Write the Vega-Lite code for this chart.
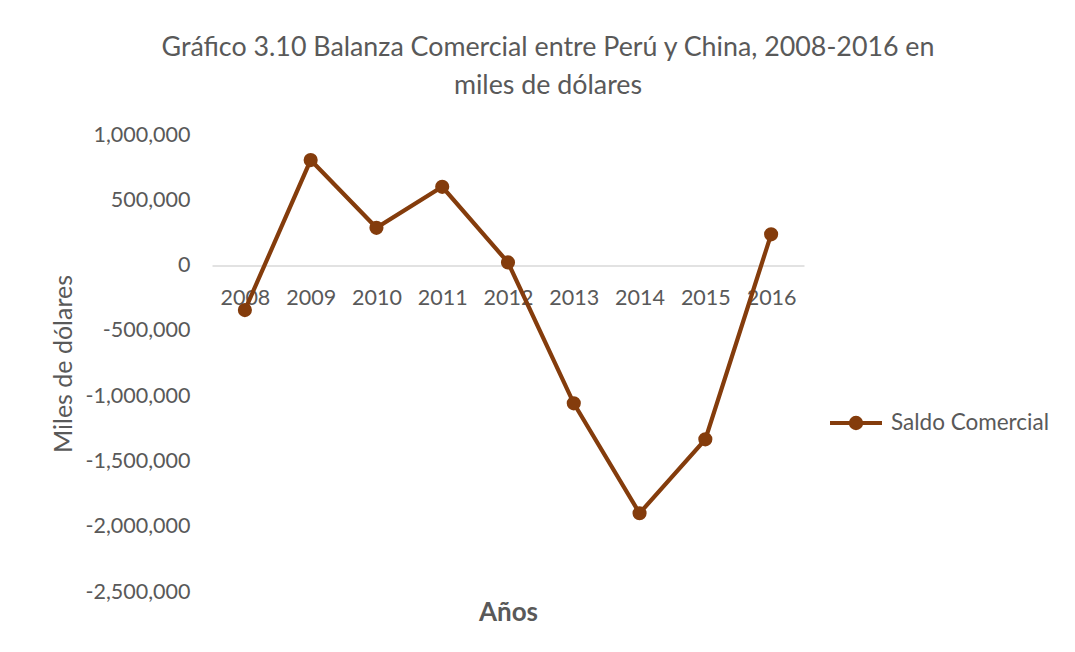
{
  "$schema": "https://vega.github.io/schema/vega-lite/v6.json",
  "autosize": "none",
  "width": 592,
  "height": 457,
  "padding": {"left": 212, "top": 135, "right": 271, "bottom": 60},
  "background": "white",
  "config": {
    "font": "Lato",
    "view": {"stroke": null}
  },
  "title": {
    "text": ["Gráfico 3.10 Balanza Comercial entre Perú y China, 2008-2016 en", "miles de dólares"],
    "font": "Lato",
    "fontSize": 26.8,
    "fontWeight": "normal",
    "color": "#595959",
    "anchor": "middle",
    "frame": "group",
    "dx": 40,
    "offset": 24,
    "lineHeight": 38
  },
  "data": {
    "values": [
      {"anio": "2008", "saldo": -341000, "serie": "Saldo Comercial"},
      {"anio": "2009", "saldo": 808000, "serie": "Saldo Comercial"},
      {"anio": "2010", "saldo": 289000, "serie": "Saldo Comercial"},
      {"anio": "2011", "saldo": 603000, "serie": "Saldo Comercial"},
      {"anio": "2012", "saldo": 24000, "serie": "Saldo Comercial"},
      {"anio": "2013", "saldo": -1055000, "serie": "Saldo Comercial"},
      {"anio": "2014", "saldo": -1897000, "serie": "Saldo Comercial"},
      {"anio": "2015", "saldo": -1331000, "serie": "Saldo Comercial"},
      {"anio": "2016", "saldo": 239000, "serie": "Saldo Comercial"}
    ]
  },
  "mark": {
    "type": "line",
    "strokeWidth": 4.2,
    "point": {"filled": true, "size": 200, "opacity": 1}
  },
  "encoding": {
    "x": {
      "field": "anio",
      "type": "ordinal",
      "scale": {"paddingInner": 0, "paddingOuter": 0.5},
      "axis": {
        "title": "Años",
        "titleFont": "Lato",
        "titleFontSize": 26,
        "titleFontWeight": "bold",
        "titleColor": "#595959",
        "titleBaseline": "middle",
        "titleY": 347,
        "labelAngle": 0,
        "labelFont": "Lato",
        "labelFontSize": 21.5,
        "labelColor": "#595959",
        "labelPadding": 22,
        "ticks": false,
        "domainColor": "#d9d9d9",
        "domainWidth": 1.5,
        "offset": -326.5,
        "grid": false
      }
    },
    "y": {
      "field": "saldo",
      "type": "quantitative",
      "scale": {"domain": [-2500000, 1000000], "nice": false},
      "axis": {
        "title": "Miles de dólares",
        "titleFont": "Lato",
        "titleFontSize": 25,
        "titleFontWeight": "normal",
        "titleColor": "#595959",
        "titlePadding": 8,
        "values": [-2500000, -2000000, -1500000, -1000000, -500000, 0, 500000, 1000000],
        "format": ",.0f",
        "labelExpr": "replace(datum.label, '−', '-')",
        "labelFont": "Lato",
        "labelFontSize": 21.5,
        "labelColor": "#595959",
        "labelPadding": 22,
        "ticks": false,
        "domain": false,
        "grid": false
      }
    },
    "color": {
      "field": "serie",
      "type": "nominal",
      "scale": {"range": ["#843C0C"]},
      "legend": {
        "title": null,
        "orient": "none",
        "legendX": 616,
        "legendY": 260,
        "symbolType": "M-1,0L1,0M-0.2,0A0.2,0.2 0 1,1 0.2,0A0.2,0.2 0 1,1 -0.2,0Z",
        "symbolSize": 2700,
        "symbolStrokeWidth": 4,
        "symbolFillColor": "#843C0C",
        "symbolStrokeColor": "#843C0C",
        "labelFont": "Lato",
        "labelFontSize": 22.5,
        "labelColor": "#595959",
        "labelOffset": 7
      }
    }
  }
}
